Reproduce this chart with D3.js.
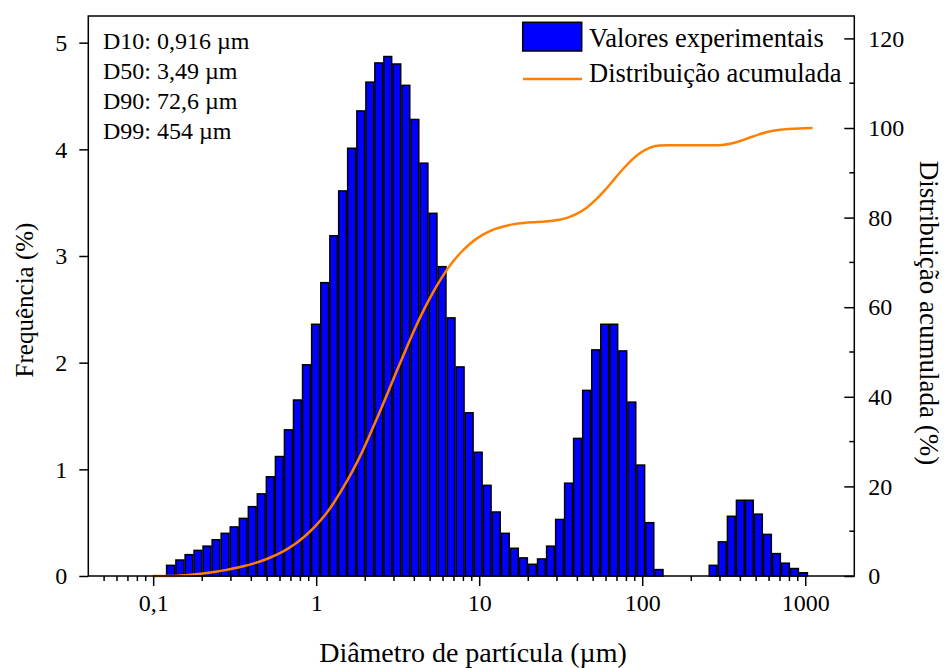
<!DOCTYPE html>
<html>
<head>
<meta charset="utf-8">
<script src="https://cdn.jsdelivr.net/npm/d3@7"></script>
<style>
  html, body { margin: 0; padding: 0; background: #fff; }
  svg { display: block; }
  text { font-family: "Liberation Serif", "Times New Roman", serif; fill: #000; }
</style>
</head>
<body>
<svg id="chart" width="948" height="668"></svg>
<script>
// Size classes (µm) at which the frequency columns are centred
const sizes = [0.128,0.146,0.166,0.188,0.214,0.243,0.276,0.314,0.357,0.405,
  0.46,0.523,0.594,0.675,0.767,0.872,0.991,1.13,1.28,1.45,
  1.65,1.88,2.13,2.42,2.75,3.12,3.55,4.03,4.58,5.21,
  5.92,6.72,7.64,8.68,9.86,11.2,12.7,14.5,16.4,18.7,
  21.2,24.1,27.4,31.1,35.3,40.1,45.6,51.8,58.9,66.9,
  76,86.4,98.1,111,127,144,163,186,211,240,
  272,310,352,400,454,516,586,666,756,859,976];

// Volume frequency per size class (%)
const frequency = [0.10,0.15,0.20,0.24,0.28,0.34,0.40,0.46,0.54,0.65,
  0.77,0.93,1.12,1.37,1.65,1.98,2.36,2.75,3.19,3.61,
  4.01,4.36,4.63,4.81,4.87,4.80,4.60,4.28,3.87,3.40,
  2.90,2.42,1.96,1.53,1.16,0.85,0.60,0.40,0.26,0.17,
  0.11,0.16,0.28,0.53,0.87,1.29,1.74,2.12,2.36,2.36,
  2.11,1.63,1.04,0.50,0.06,0,0,0,0,0,
  0.10,0.32,0.56,0.71,0.71,0.58,0.39,0.21,0.12,0.07,0.03];

// Cumulative distribution (%) at the class boundaries (µm)
const cumSizes = [0.0995,0.113,0.128,0.146,0.166,0.188,0.214,0.243,0.276,0.314,
  0.357,0.405,0.46,0.523,0.594,0.675,0.767,0.872,0.991,1.13,
  1.28,1.45,1.65,1.88,2.13,2.42,2.75,3.12,3.55,4.03,
  4.58,5.21,5.92,6.72,7.64,8.68,9.86,11.2,12.7,14.5,
  16.4,18.7,21.2,24.1,27.4,31.1,35.3,40.1,45.6,51.8,
  58.9,66.9,76,86.4,98.1,111,127,144,163,186,
  211,240,272,310,352,400,454,516,586,666,
  756,859,976,1110];
const cumulative = [0,0,0,0.10,0.25,0.45,0.69,0.97,1.31,1.71,
  2.17,2.71,3.36,4.13,5.06,6.18,7.55,9.20,11.18,13.54,
  16.29,19.48,23.09,27.10,31.46,36.09,40.90,45.77,50.57,55.17,
  59.45,63.32,66.72,69.62,72.04,74.00,75.53,76.69,77.54,78.14,
  78.54,78.80,78.97,79.08,79.24,79.52,80.05,80.92,82.21,83.95,
  86.07,88.43,90.79,92.90,94.53,95.57,96.07,96.13,96.13,96.13,
  96.13,96.13,96.13,96.23,96.55,97.11,97.82,98.53,99.11,99.50,
  99.72,99.85,99.95,100];

// Axis ticks and labels
const xTicks = [0.1, 1, 10, 100, 1000];
const xTickLabels = ["0,1", "1", "10", "100", "1000"];
const yLeftTicks = [0, 1, 2, 3, 4, 5];
const yRightTicks = [0, 20, 40, 60, 80, 100, 120];

// Characteristic diameters
const statLines = ["D10: 0,916 µm", "D50: 3,49 µm", "D90: 72,6 µm", "D99: 454 µm"];

const seriesNames = ["Valores experimentais", "Distribuição acumulada"];

const svg = d3.select("#chart");
const plot = { left: 88.3, right: 854.3, top: 16, bottom: 576 };

const x = d3.scaleLog().domain([0.04, 2000]).range([plot.left, plot.right]);
const yL = d3.scaleLinear().domain([0, 5.25]).range([plot.bottom, plot.top]);
const yR = d3.scaleLinear().domain([0, 125]).range([plot.bottom, plot.top]);

const barColor = "#0000ff";
const lineColor = "#ff8000";

// Column bounds: geometric midpoints between neighbouring classes
function bounds(i) {
  const s = sizes[i];
  const prev = i > 0 ? sizes[i - 1] : s * s / sizes[i + 1];
  const next = i < sizes.length - 1 ? sizes[i + 1] : s * s / sizes[i - 1];
  return [Math.sqrt(prev * s), Math.sqrt(s * next)];
}

const bars = sizes.map((s, i) => ({ s, v: frequency[i], b: bounds(i) }))
  .filter(d => d.v > 0);

svg.append("g").selectAll("rect").data(bars).join("rect")
  .attr("x", d => x(d.b[0]) + 0.6)
  .attr("width", d => x(d.b[1]) - x(d.b[0]) - 1.2)
  .attr("y", d => yL(d.v))
  .attr("height", d => yL(0) - yL(d.v))
  .attr("fill", barColor)
  .attr("stroke", "#000")
  .attr("stroke-width", 1.5);

// Cumulative curve
const line = d3.line()
  .x((d, i) => x(cumSizes[i]))
  .y(d => yR(d))
  .curve(d3.curveMonotoneX);
svg.append("path").datum(cumulative)
  .attr("d", line)
  .attr("fill", "none")
  .attr("stroke", lineColor)
  .attr("stroke-width", 2.5);

// Frame
svg.append("rect")
  .attr("x", plot.left).attr("y", plot.top)
  .attr("width", plot.right - plot.left).attr("height", plot.bottom - plot.top)
  .attr("fill", "none").attr("stroke", "#000").attr("stroke-width", 1.5);

const tickFont = 24;

// Bottom axis: major and minor (log) ticks
const minorX = [];
for (let e = -2; e <= 3; e++) {
  for (let m = 2; m <= 9; m++) {
    const v = m * Math.pow(10, e);
    if (v > 0.04 && v < 2000) minorX.push(v);
  }
}
const gx = svg.append("g").attr("transform", `translate(0,${plot.bottom})`);
gx.call(d3.axisBottom(x).tickValues(xTicks).tickSize(10).tickPadding(8)
    .tickFormat((d, i) => xTickLabels[i]))
  .call(g => g.select(".domain").remove());
gx.selectAll("text").attr("font-size", tickFont).attr("font-family", "Liberation Serif");
gx.selectAll("line").attr("stroke-width", 1.5);
gx.selectAll(".minor").data(minorX).join("line")
  .attr("class", "minor")
  .attr("x1", d => x(d)).attr("x2", d => x(d))
  .attr("y1", 0).attr("y2", 5)
  .attr("stroke", "#000").attr("stroke-width", 1.5);

// Left axis
const gl = svg.append("g").attr("transform", `translate(${plot.left},0)`);
gl.call(d3.axisLeft(yL).tickValues(yLeftTicks).tickSize(9).tickPadding(12).tickFormat(d3.format("d")))
  .call(g => g.select(".domain").remove());
gl.selectAll("text").attr("font-size", tickFont).attr("font-family", "Liberation Serif");
gl.selectAll("line").attr("stroke-width", 1.5);

// Right axis (ticks pointing into the plot)
const gr = svg.append("g").attr("transform", `translate(${plot.right},0)`);
gr.call(d3.axisRight(yR).tickValues(yRightTicks).tickSize(-10).tickPadding(14).tickFormat(d3.format("d")))
  .call(g => g.select(".domain").remove());
gr.selectAll("text").attr("font-size", tickFont).attr("font-family", "Liberation Serif");
gr.selectAll("line").attr("stroke-width", 1.5);
gr.selectAll(".minor").data(d3.range(10, 125, 20)).join("line")
  .attr("class", "minor")
  .attr("x1", 0).attr("x2", -5)
  .attr("y1", d => yR(d)).attr("y2", d => yR(d))
  .attr("stroke", "#000").attr("stroke-width", 1.5);

// Axis titles
svg.append("text")
  .attr("x", 473).attr("y", 662)
  .attr("text-anchor", "middle").attr("font-size", 28)
  .text("Diâmetro de partícula (µm)");
svg.append("text")
  .attr("transform", `translate(33,300) rotate(-90)`)
  .attr("text-anchor", "middle").attr("font-size", 25)
  .text("Frequência (%)");
svg.append("text")
  .attr("transform", `translate(920,313) rotate(90)`)
  .attr("text-anchor", "middle").attr("font-size", 27)
  .text("Distribuição acumulada (%)");

// Characteristic diameters
svg.append("g").selectAll("text").data(statLines).join("text")
  .attr("x", 103).attr("y", (d, i) => 49 + i * 30)
  .attr("font-size", 24)
  .text(d => d);

// Legend
const lg = svg.append("g");
lg.append("rect").attr("x", 522.7).attr("y", 22.3).attr("width", 59).attr("height", 28.7)
  .attr("fill", barColor).attr("stroke", "#000").attr("stroke-width", 1.5);
lg.append("text").attr("x", 589).attr("y", 47).attr("font-size", 26.5).text(seriesNames[0]);
lg.append("line").attr("x1", 523).attr("x2", 582).attr("y1", 79).attr("y2", 79)
  .attr("stroke", lineColor).attr("stroke-width", 2.5);
lg.append("text").attr("x", 589).attr("y", 82).attr("font-size", 26.5).text(seriesNames[1]);
</script>
</body>
</html>
